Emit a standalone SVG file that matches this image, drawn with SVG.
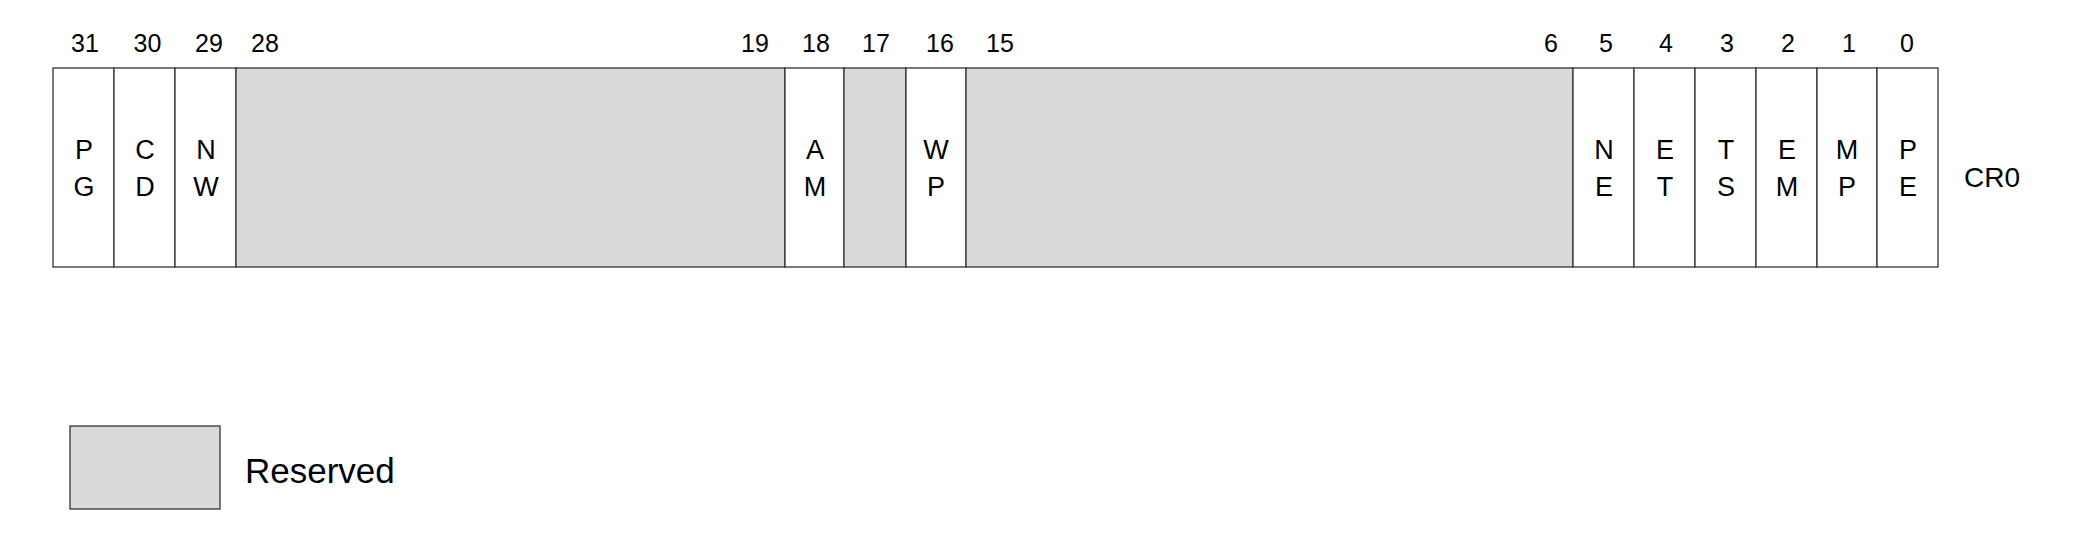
<svg xmlns="http://www.w3.org/2000/svg" width="2090" height="556" viewBox="0 0 2090 556">
<style>
.cell{fill:#ffffff;stroke:#333333;stroke-width:1.3}
.res{fill:#d9d9d9;stroke:#333333;stroke-width:1.3}
.num{font-family:"Liberation Sans",Arial,sans-serif;font-size:25px;fill:#000;text-anchor:middle}
.lbl{font-family:"Liberation Sans",Arial,sans-serif;font-size:27px;fill:#000;text-anchor:middle}
.txt{font-family:"Liberation Sans",Arial,sans-serif;fill:#000}
</style>
<rect width="2090" height="556" fill="#ffffff"/>
<g id="bitnumbers">
<text class="num" x="85" y="52">31</text>
<text class="num" x="147.5" y="52">30</text>
<text class="num" x="209" y="52">29</text>
<text class="num" x="265" y="52">28</text>
<text class="num" x="755" y="52">19</text>
<text class="num" x="816" y="52">18</text>
<text class="num" x="876" y="52">17</text>
<text class="num" x="940" y="52">16</text>
<text class="num" x="1000" y="52">15</text>
<text class="num" x="1551" y="52">6</text>
<text class="num" x="1606" y="52">5</text>
<text class="num" x="1666" y="52">4</text>
<text class="num" x="1727" y="52">3</text>
<text class="num" x="1788" y="52">2</text>
<text class="num" x="1849" y="52">1</text>
<text class="num" x="1907" y="52">0</text>
</g>
<g id="PG"><rect class="cell" x="53" y="68" width="61" height="199"/><text class="lbl" x="84" y="159">P</text><text class="lbl" x="84" y="196">G</text></g>
<g id="CD"><rect class="cell" x="114" y="68" width="61" height="199"/><text class="lbl" x="145" y="159">C</text><text class="lbl" x="145" y="196">D</text></g>
<g id="NW"><rect class="cell" x="175" y="68" width="61" height="199"/><text class="lbl" x="206" y="159">N</text><text class="lbl" x="206" y="196">W</text></g>
<g id="reserved-28-19"><rect class="res" x="236" y="68" width="549" height="199"/></g>
<g id="AM"><rect class="cell" x="785" y="68" width="59" height="199"/><text class="lbl" x="815" y="159">A</text><text class="lbl" x="815" y="196">M</text></g>
<g id="reserved-17"><rect class="res" x="844" y="68" width="62" height="199"/></g>
<g id="WP"><rect class="cell" x="906" y="68" width="60" height="199"/><text class="lbl" x="936" y="159">W</text><text class="lbl" x="936" y="196">P</text></g>
<g id="reserved-15-6"><rect class="res" x="966" y="68" width="607" height="199"/></g>
<g id="NE"><rect class="cell" x="1573" y="68" width="61" height="199"/><text class="lbl" x="1604" y="159">N</text><text class="lbl" x="1604" y="196">E</text></g>
<g id="ET"><rect class="cell" x="1634" y="68" width="61" height="199"/><text class="lbl" x="1665" y="159">E</text><text class="lbl" x="1665" y="196">T</text></g>
<g id="TS"><rect class="cell" x="1695" y="68" width="61" height="199"/><text class="lbl" x="1726" y="159">T</text><text class="lbl" x="1726" y="196">S</text></g>
<g id="EM"><rect class="cell" x="1756" y="68" width="61" height="199"/><text class="lbl" x="1787" y="159">E</text><text class="lbl" x="1787" y="196">M</text></g>
<g id="MP"><rect class="cell" x="1817" y="68" width="60" height="199"/><text class="lbl" x="1847" y="159">M</text><text class="lbl" x="1847" y="196">P</text></g>
<g id="PE"><rect class="cell" x="1877" y="68" width="61" height="199"/><text class="lbl" x="1908" y="159">P</text><text class="lbl" x="1908" y="196">E</text></g>
<g id="CR0"><text class="txt" x="1964" y="187" font-size="28">CR0</text></g>
<g id="legend"><rect class="res" x="70" y="426" width="150" height="83"/><text class="txt" x="245" y="483" font-size="35">Reserved</text></g>
<g id="connectors"></g>
</svg>
